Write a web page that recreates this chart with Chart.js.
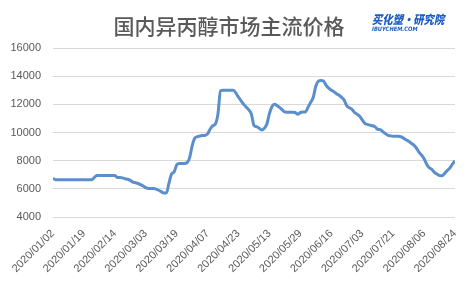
<!DOCTYPE html>
<html>
<head>
<meta charset="utf-8">
<script src="https://cdn.jsdelivr.net/npm/chart.js@4/dist/chart.umd.min.js"></script>
<style>
  html, body { margin: 0; padding: 0; background: #fff; }
  #wrap { width: 476px; height: 285px; position: relative; }
</style>
</head>
<body>
<div id="wrap"><canvas id="c"></canvas></div>
<script>
const title = "国内异丙醇市场主流价格";

// one label every 12 trading days
const tickLabels = [
  "2020/01/02", "2020/01/19", "2020/02/14", "2020/03/03", "2020/03/19",
  "2020/04/07", "2020/04/23", "2020/05/13", "2020/05/29", "2020/06/16",
  "2020/07/03", "2020/07/21", "2020/08/06", "2020/08/24",
];
const labelStep = 12;

// price, yuan/ton
const prices = [
  6750, 6650, 6650, 6650, 6650, 6650, 6650, 6650, 6650, 6650,
  6650, 6650, 6650, 6650, 6650, 6650, 6800, 6950, 6950, 6950,
  6950, 6950, 6950, 6950, 6950, 6800, 6800, 6780, 6720, 6680,
  6600, 6480, 6430, 6380, 6300, 6200, 6080, 6020, 6020, 6020,
  5980, 5900, 5800, 5700, 5700, 6400, 7050, 7200, 7700, 7800,
  7800, 7800, 7850, 8200, 9050, 9600, 9700, 9750, 9780, 9800,
  9900, 10250, 10480, 10600, 11300, 12950, 13000, 13000, 13000, 13000,
  13000, 12800, 12500, 12250, 12000, 11800, 11600, 11300, 10500, 10420,
  10300, 10180, 10300, 10600, 11350, 11850, 12000, 11900, 11760, 11600,
  11450, 11440, 11440, 11440, 11420, 11300, 11420, 11450, 11460, 11800,
  12150, 12500, 13300, 13650, 13700, 13650, 13350, 13150, 13000, 12900,
  12750, 12650, 12500, 12300, 11900, 11750, 11650, 11420, 11300, 11150,
  10900, 10650, 10580, 10520, 10480, 10400, 10230, 10200, 10050, 9920,
  9800, 9760, 9740, 9740, 9740, 9700, 9600, 9480, 9380, 9240,
  9100, 8900, 8600, 8400, 8130, 7750, 7500, 7380, 7170, 7050,
  6950, 6930, 7100, 7300, 7480, 7750, 8000,
];

const textColor = "#595959";
const gridColor = "#d9d9d9";
const lineColor = "#5a8fcb";

const headerPlugin = {
  id: "header",
  afterDraw(chart) {
    const ctx = chart.ctx;
    ctx.save();
    ctx.fillStyle = textColor;
    ctx.font = '500 21px "Noto Sans CJK SC"';
    ctx.textAlign = "center";
    ctx.textBaseline = "middle";
    ctx.fillText(title, 229, 26);

    // logo, squeezed a bit like the original artwork
    ctx.fillStyle = "#1a5cc4";
    ctx.textAlign = "left";
    ctx.translate(372, 0);
    ctx.scale(0.86, 1);
    ctx.font = 'italic 900 12px "Noto Sans CJK SC"';
    ctx.fillText("买化塑·研究院", 0, 19);
    ctx.font = 'italic bold 6px "DejaVu Sans"';
    ctx.fillText("IBUYCHEM.COM", 0, 29);
    ctx.restore();
  },
};

new Chart(document.getElementById("c"), {
  type: "line",
  data: {
    datasets: [{
      data: prices.map((y, x) => ({ x, y })),
      borderColor: lineColor,
      borderWidth: 3,
      pointRadius: 0,
      tension: 0.3,
      cubicInterpolationMode: "monotone",
      fill: false,
    }],
  },
  options: {
    responsive: true,
    maintainAspectRatio: false,
    animation: false,
    layout: { padding: { top: 48, right: 21, left: 0, bottom: 0 } },
    plugins: {
      legend: { display: false },
      title: { display: false },
      tooltip: { enabled: false },
    },
    scales: {
      x: {
        type: "linear",
        min: 0,
        max: (tickLabels.length - 1) * labelStep,
        grid: { display: false },
        border: { display: false },
        afterFit: (scale) => { scale.height = 68; },
        ticks: {
          stepSize: labelStep,
          autoSkip: false,
          maxRotation: 45,
          minRotation: 45,
          padding: 2,
          color: textColor,
          font: { family: "Liberation Sans", size: 11 },
          callback: (v) => tickLabels[v / labelStep] ?? "",
        },
      },
      y: {
        min: 4000,
        max: 16000,
        border: { display: false },
        grid: { color: gridColor, drawTicks: false, lineWidth: 1 },
        afterFit: (scale) => { scale.width = 53; },
        ticks: {
          stepSize: 2000,
          padding: 12,
          color: textColor,
          font: { family: "Liberation Sans", size: 11 },
          callback: (v) => String(v),
        },
      },
    },
  },
  plugins: [headerPlugin],
});
</script>
</body>
</html>
